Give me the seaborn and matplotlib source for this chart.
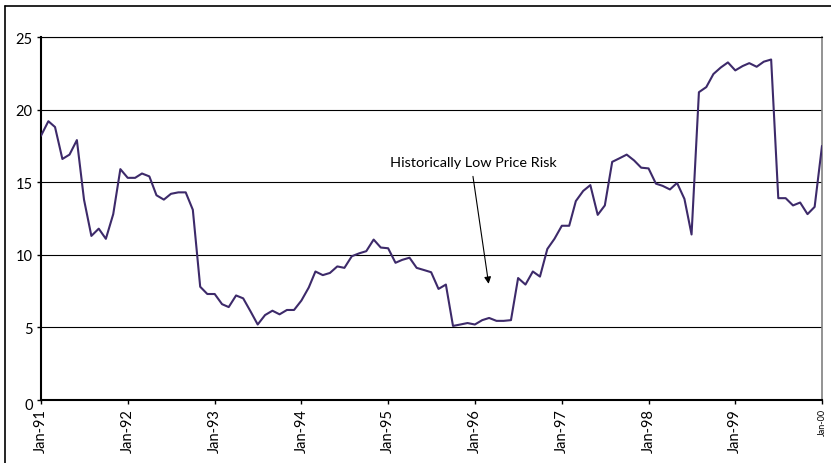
import numpy as np
import pandas as pd
import matplotlib
matplotlib.use("Agg")
import matplotlib.pyplot as plt
import matplotlib.dates as mdates
from matplotlib.transforms import ScaledTranslation
from matplotlib.lines import Line2D
import seaborn as sns

# ---- data (monthly, Jan-91 .. Jan-00) ----
v1991 = [18.2, 19.2, 18.8, 16.6, 16.9, 17.9, 13.8, 11.3, 11.8, 11.1, 12.8, 15.9]
v1992 = [15.3, 15.3, 15.6, 15.4, 14.1, 13.8, 14.2, 14.3, 14.3, 13.1, 7.8, 7.3]
v1993 = [7.3, 6.6, 6.4, 7.2, 7.0, 6.1, 5.2, 5.85, 6.15, 5.9, 6.2, 6.2]
v1994 = [6.85, 7.75, 8.85, 8.6, 8.75, 9.2, 9.1, 9.9, 10.1, 10.25, 11.05, 10.5]
v1995 = [10.45, 9.45, 9.65, 9.8, 9.1, 8.95, 8.8, 7.65, 7.95, 5.1, 5.2, 5.3]
v1996 = [5.2, 5.5, 5.65, 5.45, 5.45, 5.5, 8.4, 7.95, 8.85, 8.5, 10.4, 11.1]
v1997 = [12.0, 12.0, 13.7, 14.4, 14.8, 12.75, 13.4, 16.4, 16.65, 16.9, 16.5, 16.0]
v1998 = [15.95, 14.9, 14.75, 14.5, 14.95, 13.85, 11.4, 21.2, 21.55, 22.45, 22.9, 23.25]
v1999 = [22.7, 23.0, 23.2, 22.95, 23.3, 23.45, 13.9, 13.9, 13.4, 13.6, 12.8, 13.3]
v2000 = [17.5]

values = v1991 + v1992 + v1993 + v1994 + v1995 + v1996 + v1997 + v1998 + v1999 + v2000
dates = pd.date_range("1991-01-01", periods=len(values), freq="MS")
tick_dates = pd.date_range("1991-01-01", "2000-01-01", freq="YS")
tick_labels = ["Jan-91", "Jan-92", "Jan-93", "Jan-94", "Jan-95", "Jan-96",
               "Jan-97", "Jan-98", "Jan-99", "Jan-00"]
y_ticks = [0, 5, 10, 15, 20, 25]
annotation_text = "Historically Low Price Risk"

df = pd.DataFrame({"date": dates, "value": values})

sns.set_theme(style="white")
plt.rcParams["font.family"] = ["Lato", "DejaVu Sans"]

W, H = 831, 464
fig = plt.figure(figsize=(W / 100, H / 100), dpi=100)
ax = fig.add_axes([41 / W, (H - 401) / H, (822 - 41) / W, (401 - 38) / H])

sns.lineplot(data=df, x="date", y="value", ax=ax, color="#3D2A6A",
             linewidth=1.5, zorder=3)

ax.set_xlim(dates[0], pd.Timestamp("2000-01-01"))
ax.set_ylim(0, 25)
ax.set_xlabel("")
ax.set_ylabel("")

for yv in y_ticks[1:]:
    ax.axhline(yv, color="black", linewidth=0.8, zorder=1)

ax.set_yticks(y_ticks)
ax.set_yticklabels([str(t) for t in y_ticks], fontsize=10.5, color="black")
ax.set_xticks(tick_dates)
ax.set_xticklabels(tick_labels, rotation=90, fontsize=10.5, color="black")
ax.xaxis.get_ticklabels()[-1].set_fontsize(6.5)

ax.tick_params(axis="y", which="major", direction="out", length=3, width=1,
               color="black", pad=3, left=True)
ax.tick_params(axis="x", which="major", direction="out", length=3, width=1,
               color="black", pad=3, bottom=True)

# Excel draws the 0 label slightly low
for lab in ax.get_yticklabels():
    if lab.get_text() == "0":
        lab.set_transform(lab.get_transform() + ScaledTranslation(0, -4 / 100, fig.dpi_scale_trans))

for side in ["left", "bottom"]:
    ax.spines[side].set_visible(True)
    ax.spines[side].set_color("black")
    ax.spines[side].set_linewidth(1.5)
ax.spines["top"].set_visible(True)
ax.spines["top"].set_color("black")
ax.spines["top"].set_linewidth(0.8)
ax.spines["right"].set_visible(True)
ax.spines["right"].set_color("#808080")
ax.spines["right"].set_linewidth(1.2)

# annotation
ax.text(pd.Timestamp("1995-12-27"), 16.4, annotation_text, ha="center",
        va="center", fontsize=10.4, color="black")
ax.annotate("", xy=(pd.Timestamp("1996-02-28"), 8.0),
            xytext=(pd.Timestamp("1995-12-24"), 15.4),
            arrowprops=dict(arrowstyle="-|>", color="black", lw=0.8,
                            mutation_scale=10, shrinkA=0, shrinkB=0))

# outer chart-area border (left and top visible)
fig.add_artist(Line2D([4.5 / W, 4.5 / W], [0, (H - 7) / H], transform=fig.transFigure,
                      color="black", linewidth=1.2))
fig.add_artist(Line2D([4.5 / W, 1], [(H - 7) / H, (H - 7) / H], transform=fig.transFigure,
                      color="black", linewidth=1.2))

fig.savefig("out.png", dpi=100)
